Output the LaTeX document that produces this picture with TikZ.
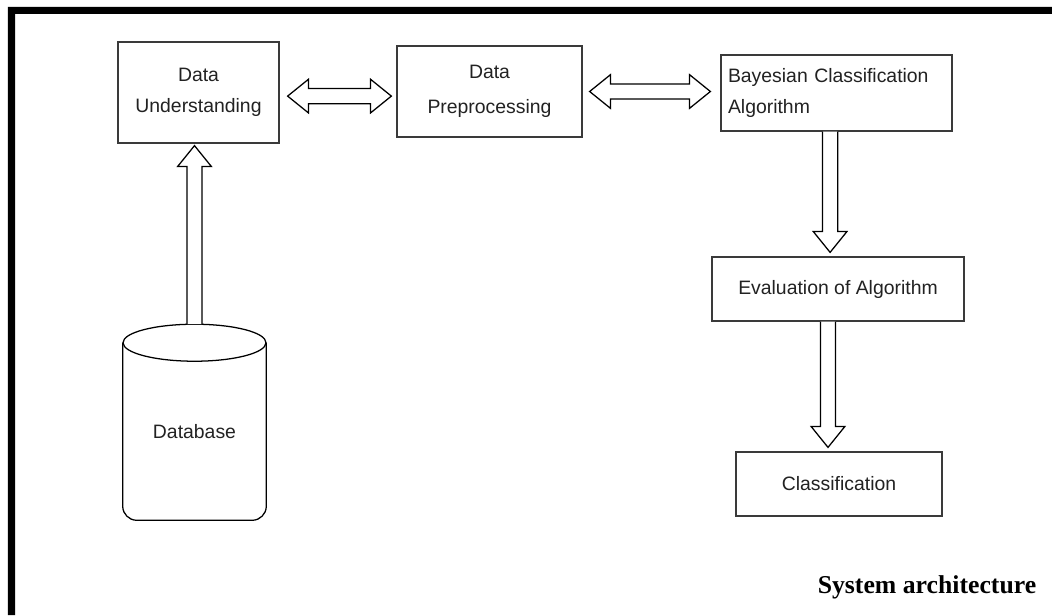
\documentclass[tikz,border=0pt]{standalone}
\usepackage{fontspec}
\setmainfont{Liberation Sans}
\newfontfamily\captionserif{Liberation Serif}
\definecolor{ink}{HTML}{222222}
\definecolor{edge}{HTML}{3A3A3A}
\usepackage{tikz}
\usetikzlibrary{calc,positioning}
\tikzset{
  stage/.style={draw=edge,line width=0.9pt,fill=white,align=center,
    font=\fontsize{13.8}{22}\selectfont\color{ink}},
  hollow/.style={draw=black,line width=0.9pt,fill=white,line join=miter},
}
\newcommand{\shaftw}{0.19cm}
\newcommand{\headw}{0.42cm}
\newcommand{\headl}{0.52cm}
% open block arrow, tip at #2
\newcommand{\blockarrow}[2]{%
  \coordinate (hb) at ($(#2)!\headl!(#1)$);
  \draw[hollow] ($(#1)!\shaftw!90:(#2)$) -- ($(hb)!\shaftw!90:(#2)$) -- ($(hb)!\headw!90:(#2)$)
    -- (#2) -- ($(hb)!\headw!-90:(#2)$) -- ($(hb)!\shaftw!-90:(#2)$) -- ($(#1)!\shaftw!-90:(#2)$);
}
% block arrow with a head at both ends
\newcommand{\twowayarrow}[2]{%
  \coordinate (ha) at ($(#1)!\headl!(#2)$);
  \coordinate (hb) at ($(#2)!\headl!(#1)$);
  \draw[hollow] (#1) -- ($(ha)!\headw!90:(#2)$) -- ($(ha)!\shaftw!90:(#2)$) -- ($(hb)!\shaftw!90:(#2)$)
    -- ($(hb)!\headw!90:(#2)$) -- (#2) -- ($(hb)!\headw!-90:(#2)$) -- ($(hb)!\shaftw!-90:(#2)$)
    -- ($(ha)!\shaftw!-90:(#2)$) -- ($(ha)!\headw!-90:(#2)$) -- cycle;
}

\begin{document}
\begin{tikzpicture}[
    dbbody/.style={minimum width=3.575cm,minimum height=4.425cm,inner sep=0pt,
      font=\fontsize{13.8}{22}\selectfont\color{ink}},
    caption/.style={font=\captionserif\bfseries\fontsize{18.3}{22}\selectfont}]

    \useasboundingbox (0,0) rectangle (26.3,15.375);
    \fill[black] (0.2,0) -- (0.2,15.2) -- (26.3,15.2) -- (26.3,15.025) -- (0.375,15.025) -- (0.375,0) -- cycle;

    \node[stage,minimum width=4.025cm,minimum height=2.525cm] (du) at (4.9625,13.0625) {Data\\Understanding};
    \node[stage,minimum width=4.625cm,minimum height=2.275cm] (dp) at (12.2375,13.0875) {Data\\[3pt]Preprocessing};
    \node[stage,align=left,text width=5.425cm,inner xsep=0.175cm,minimum height=1.9cm] (bca) at (20.9125,13.05) {Bayesian Classification\\Algorithm};
    \node[stage,minimum width=6.3cm,minimum height=1.6cm] (eval) at (20.95,8.15) {Evaluation of Algorithm};
    \node[stage,minimum width=5.15cm,minimum height=1.6cm] (cls) at (20.975,3.275) {Classification};
    \node[dbbody] (db) at (4.8625,4.5875) {Database};
    \node[caption] (title) at (23.175,0.7) {System architecture};

    % database drum
    \draw[draw=black,line width=0.9pt,rounded corners=0.35cm] (db.north west) -- (db.south west) -- (db.south east) -- (db.north east);
    \draw[draw=black,line width=0.9pt] (db.north) ellipse [x radius=1.7875cm,y radius=0.4625cm];

    \coordinate (dbtop) at ([yshift=0.4625cm]db.north);
    \coordinate (uptip) at ($(dbtop |- du.south)+(0,-0.05)$);
    \coordinate (l1a) at ($(du.east)+(0.2,-0.09)$);
    \coordinate (l1b) at ($(du.east -| dp.west)+(-0.125,-0.09)$);
    \coordinate (l2a) at ($(dp.east)+(0.175,0)$);
    \coordinate (l2b) at ($(dp.east -| bca.west)+(-0.25,0)$);
    \coordinate (d1a) at ($(bca.south)+(-0.16,0)$);
    \coordinate (d1b) at ($(d1a |- eval.north)+(0,0.1)$);
    \coordinate (d2a) at ($(eval.south)+(-0.25,0)$);
    \coordinate (d2b) at ($(d2a |- cls.north)+(0,0.1)$);

    \blockarrow{dbtop}{uptip}
    \twowayarrow{l1a}{l1b}
    \twowayarrow{l2a}{l2b}
    \blockarrow{d1a}{d1b}
    \blockarrow{d2a}{d2b}
  \end{tikzpicture}
\end{document}
